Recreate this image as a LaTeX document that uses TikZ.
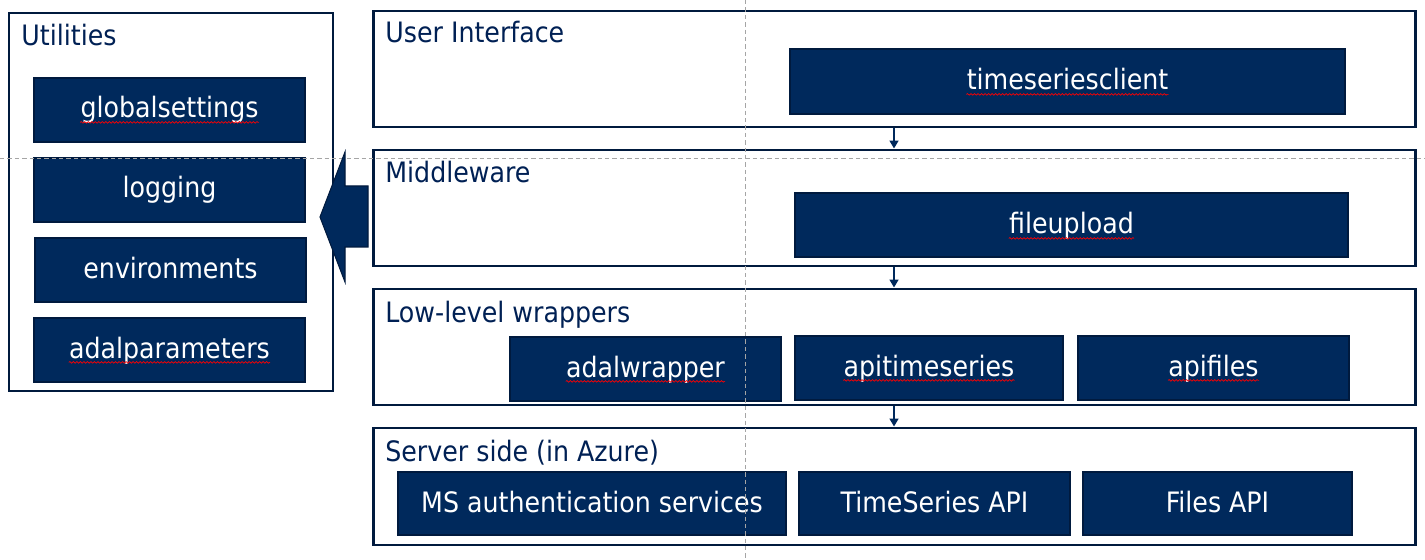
\documentclass[tikz,border=0pt]{standalone}
\usepackage{fontspec}
\setmainfont{DejaVu Sans Condensed}
\usetikzlibrary{arrows.meta,decorations.pathmorphing,calc}
\definecolor{navy}{RGB}{0,41,92}
\definecolor{navyedge}{RGB}{0,26,62}
\definecolor{titlecol}{RGB}{0,32,84}
\definecolor{guide}{RGB}{165,165,165}
\newcommand{\rectnode}[6]{%
  \node[#1, minimum width={(#5-#3)*0.02cm}, minimum height={(#6-#4)*0.02cm}] (#2) at ({(#3+#5)/2},{(#4+#6)/2}) {};}
\newlength{\tswidth}
\begin{document}
\begin{tikzpicture}[x=0.02cm,y=-0.02cm,
  outer/.style={draw=navyedge, line width=1.7pt, inner sep=0pt},
  ibox/.style={fill=navy, draw=navyedge, line width=1.1pt, inner sep=0pt},
  itext/.style={text=white, font=\fontsize{16}{19}\selectfont, inner sep=0pt, anchor=base},
  ttl/.style={text=titlecol, font=\fontsize{16}{19}\selectfont, inner sep=0pt, anchor=base west},
  conn/.style={draw=navy, line width=1.2pt, -{Triangle[width=5pt,length=4.5pt]}},
  squig/.style={draw=red, line width=0.4pt, decorate, decoration={snake, amplitude=0.45pt, segment length=2pt}},
  guideline/.style={draw=guide, line width=0.5pt, dash pattern=on 2.5pt off 1.7pt}]
\useasboundingbox (0,0) rectangle (1425,560);

% Utilities
\rectnode{outer}{util}{9}{13}{333}{391}
\node[ttl] (util-t) at (21,46) {Utilities};
\rectnode{ibox}{gs}{34}{78}{305}{142}
\node[itext] (gs-t) at (169.5,118) {globalsettings};
\rectnode{ibox}{lg}{34}{158}{305}{222}
\node[itext] (lg-t) at (169.5,198) {logging};
\rectnode{ibox}{env}{35}{238}{306}{302}
\node[itext] (env-t) at (170.5,278) {environments};
\rectnode{ibox}{adp}{34}{318}{305}{382}
\node[itext] (adp-t) at (169.5,358) {adalparameters};

% User interface
\rectnode{outer}{ui}{373}{11}{1415}{127}
\node[ttl] (ui-t) at (385,43) {User Interface};
\rectnode{ibox}{tsc}{790}{49}{1345}{114}
\node[itext] (tsc-t) at (1067.5,90) {timeseriesclient};

% Middleware
\rectnode{outer}{mw}{373}{150}{1415}{266}
\node[ttl] (mw-t) at (385,183) {Middleware};
\rectnode{ibox}{fu}{795}{193}{1348}{257}
\node[itext] (fu-t) at (1071.5,234) {fileupload};

% Low-level wrappers
\rectnode{outer}{ll}{373}{289}{1415}{405}
\node[ttl] (ll-t) at (385,322) {Low-level wrappers};
\rectnode{ibox}{aw}{510}{337}{781}{401}
\node[itext] (aw-t) at (645.5,377) {adalwrapper};
\rectnode{ibox}{ats}{795}{336}{1063}{400}
\node[itext] (ats-t) at (929,376) {apitimeseries};
\rectnode{ibox}{af}{1078}{336}{1349}{400}
\node[itext] (af-t) at (1213.5,376) {apifiles};

% Server side
\rectnode{outer}{ss}{373}{428}{1415}{545}
\node[ttl] (ss-t) at (385,461) {Server side (in Azure)};
\rectnode{ibox}{ms}{398}{472}{786}{535}
\node[itext] (ms-t) at (592,512) {MS authentication services};
\rectnode{ibox}{tsa}{799}{472}{1070}{535}
\node[itext] (tsa-t) at (934.5,512) {TimeSeries API};
\rectnode{ibox}{fa}{1083}{472}{1352}{535}
\node[itext] (fa-t) at (1217.5,512) {Files API};

% spell-check underlines
\foreach \n in {gs-t,adp-t,tsc-t,fu-t,aw-t,ats-t,af-t}{
  \draw[squig] ([yshift=-2.5pt]\n.base west) -- ([yshift=-2.5pt]\n.base east);
}
\settowidth{\tswidth}{\fontsize{16}{19}\selectfont TimeSeries}
\draw[squig] ([yshift=-2.5pt]tsa-t.base west) -- ++(\tswidth,0pt);

% connectors
\coordinate (ax) at (894,0);
\draw[conn] (ui.south -| ax) -- (mw.north -| ax);
\draw[conn] (mw.south -| ax) -- (ll.north -| ax);
\draw[conn] (ll.south -| ax) -- (ss.north -| ax);

% guides
\coordinate (gv1) at (745,0);
\coordinate (gv2) at (745,560);
\coordinate (gh1) at (0,158);
\coordinate (gh2) at (1425,158);
\draw[guideline] (gv1) -- (gv2);
\draw[guideline] (gh1) -- (gh2);

% big arrow
\fill[navy, draw=navyedge, line width=0.6pt]
  (368,186) -- (345,186) -- (345,152) -- (320,217) -- (345,282) -- (345,247) -- (368,247) -- cycle;
\end{tikzpicture}
\end{document}
